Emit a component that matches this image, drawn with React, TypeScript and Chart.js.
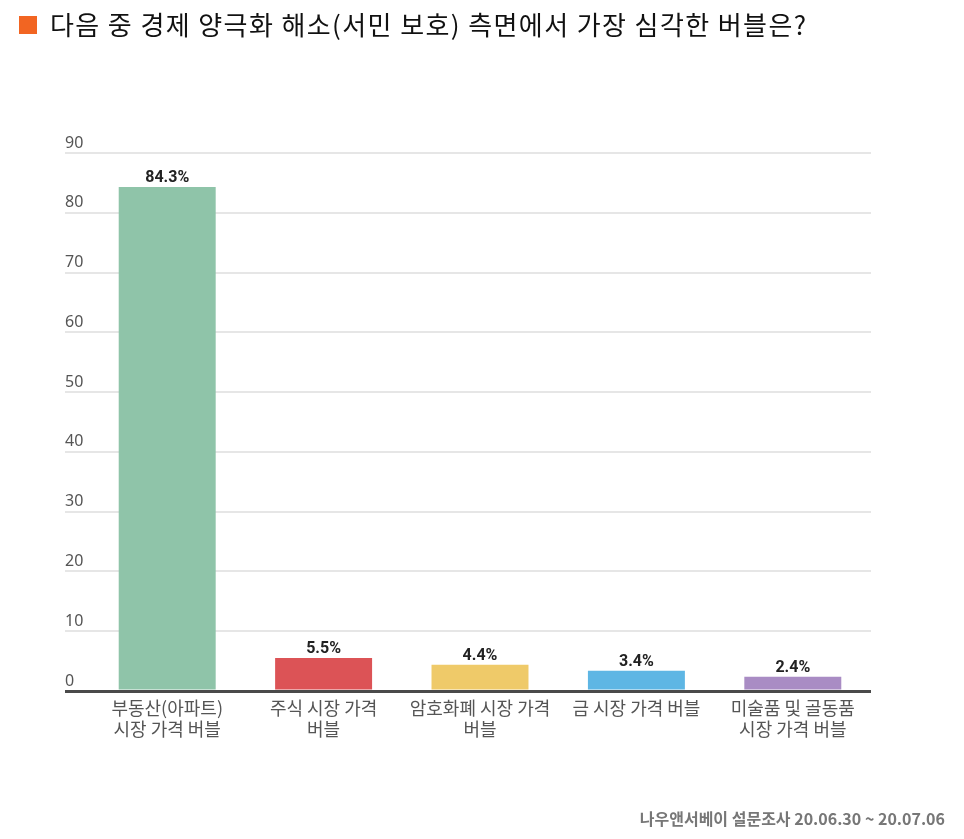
import React, { useEffect, useRef } from "react";
import { Chart, registerables } from "chart.js";

Chart.register(...registerables);

const TITLE = "다음 중 경제 양극화 해소(서민 보호) 측면에서 가장 심각한 버블은?";
const FOOTER = "나우앤서베이 설문조사 20.06.30 ~ 20.07.06";
const categories: string[][] = [
  ["부동산(아파트)", "시장 가격 버블"],
  ["주식 시장 가격", "버블"],
  ["암호화폐 시장 가격", "버블"],
  ["금 시장 가격 버블"],
  ["미술품 및 골동품", "시장 가격 버블"],
];
const values = [84.3, 5.5, 4.4, 3.4, 2.4];
const barColors = ["#8fc4a9", "#dc5356", "#efca69", "#5eb6e4", "#a98cc4"];
const yMax = 90;
const yStep = 10;

const valueLabels = {
  id: "valueLabels",
  afterDatasetsDraw(chart: any) {
    const ctx = chart.ctx;
    const meta = chart.getDatasetMeta(0);
    ctx.save();
    ctx.font = "bold 16px Roboto, 'Noto Sans', sans-serif";
    ctx.fillStyle = "#222";
    ctx.textAlign = "center";
    ctx.textBaseline = "alphabetic";
    meta.data.forEach((bar: any, i: number) => {
      ctx.fillText(values[i].toFixed(1) + "%", bar.x, bar.y - 5);
    });
    ctx.restore();
  },
};

export default function App() {
  const ref = useRef<HTMLCanvasElement>(null);
  useEffect(() => {
    if (!ref.current) return;
    const chart = new Chart(ref.current, {
      type: "bar",
      data: {
        labels: categories,
        datasets: [
          {
            data: values,
            backgroundColor: barColors,
            borderWidth: 0,
            categoryPercentage: 1,
            barPercentage: 0.62,
          },
        ],
      },
      options: {
        animation: false,
        responsive: false,
        maintainAspectRatio: false,
        layout: { padding: { left: 65, right: 93, top: 153, bottom: 0 } },
        plugins: { legend: { display: false }, tooltip: { enabled: false }, title: { display: false } },
        scales: {
          x: {
            grid: { display: false, drawTicks: false },
            border: { display: false },
            ticks: {
              color: "#555",
              font: { family: "'Noto Sans CJK KR', sans-serif", size: 18, lineHeight: 1.17 },
              padding: 7,
              maxRotation: 0,
              autoSkip: false,
            },
            afterFit: (scale: any) => {
              scale.height = 148;
            },
          },
          y: {
            min: 0,
            max: yMax,
            border: { display: false },
            grid: {
              color: (c: any) => (c.tick && c.tick.value === 0 ? "#4a4a4a" : "#e6e6e6"),
              lineWidth: (c: any) => (c.tick && c.tick.value === 0 ? 3 : 2),
              tickColor: (c: any) => (c.tick && c.tick.value === 0 ? "#4a4a4a" : "#e6e6e6"),
              tickWidth: (c: any) => (c.tick && c.tick.value === 0 ? 3 : 2),
              drawTicks: true,
              tickLength: 24,
            },
            ticks: {
              stepSize: yStep,
              crossAlign: "far",
              padding: 0,
              labelOffset: -10,
              color: "#555",
              font: { family: "'Noto Sans', sans-serif", size: 16 },
            },
            afterFit: (scale: any) => {
              scale.width = 24;
            },
          },
        },
      },
      plugins: [valueLabels],
    });
    return () => chart.destroy();
  }, []);

  return (
    <div style={{ position: "fixed", left: 0, top: 0, width: 964, height: 839, background: "#fff" }}>
      <canvas ref={ref} width={964} height={839} style={{ position: "absolute", left: 0, top: 0 }} />
      <div style={{ position: "absolute", left: 19, top: 16, width: 18, height: 18, background: "#f26522" }} />
      <div
        style={{
          position: "absolute",
          left: 50,
          top: 5,
          fontFamily: "'Noto Sans CJK KR', sans-serif",
          fontSize: 26,
          letterSpacing: "1.4px",
          lineHeight: "38px",
          color: "#111",
          whiteSpace: "nowrap",
        }}
      >
        {TITLE}
      </div>
      <div
        style={{
          position: "absolute",
          right: 19,
          top: 806,
          fontFamily: "'Noto Sans CJK KR', sans-serif",
          fontSize: 16,
          fontWeight: "bold",
          lineHeight: "24px",
          color: "#777",
          whiteSpace: "nowrap",
        }}
      >
        {FOOTER}
      </div>
    </div>
  );
}
